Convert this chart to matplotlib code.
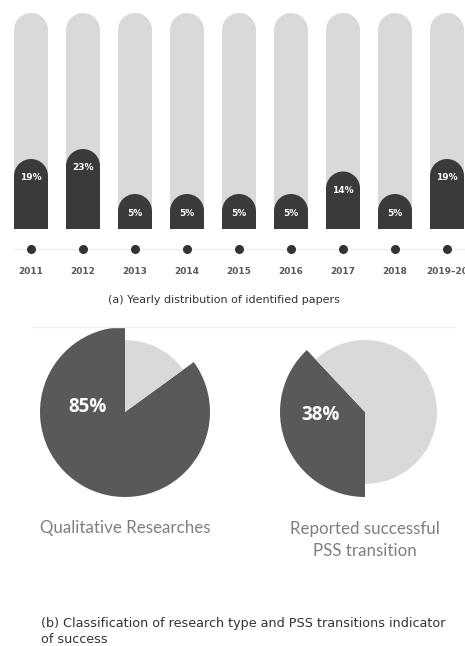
import matplotlib.pyplot as plt
import numpy as np
from matplotlib.lines import Line2D
from matplotlib.patches import Ellipse

years = ['2011', '2012', '2013', '2014', '2015', '2016', '2017', '2018', '2019–20']
share = [19, 23, 5, 5, 5, 5, 14, 5, 19]

pie_titles = ['Qualitative Researches', 'Reported successful\nPSS transition']
pie_share = [85, 38]

DARK = '#3a3a3a'
PIE_DARK = '#595959'
LIGHT = '#d9d9d9'

W, H = 465, 646
fig = plt.figure(figsize=(W / 100, H / 100), dpi=100)

# ---- (a) bar panel, pixel rows 0..300 from the top ----
ax = fig.add_axes([0, 1 - 300 / H, 1, 300 / H])
ax.set_xlim(-31 / 52, (W - 31) / 52)
ax.set_ylim(-37.4, 82.6)
ax.axis('off')

x = np.arange(len(years))
vals = np.array(share)
pad = 9          # bars start below zero so small shares still show a cap
full = 77.4      # height of the grey track
bw = 34 / 52
r_y = 17 / 2.5   # cap radius in y units

ax.bar(x, full - r_y + pad, bottom=-pad, width=bw, color=LIGHT, lw=0, snap=False)
ax.bar(x, vals - r_y + pad, bottom=-pad, width=bw, color=DARK, lw=0, snap=False)
for xi, v in zip(x, vals):
    ax.add_patch(Ellipse((xi, full - r_y), bw, 2 * r_y, color=LIGHT, lw=0, zorder=1))
    ax.add_patch(Ellipse((xi, v - r_y), bw, 2 * r_y, color=DARK, lw=0, zorder=1.5))
    ax.text(xi, v - r_y - 0.8, f'{v}%', ha='center', va='center', color='white',
            fontsize=6.5, fontweight='bold', zorder=3)

# timeline
ax.plot([x[0] - 0.33, x[-1] + 1], [-17, -17], color='#eeeeee', lw=1, zorder=0)
ax.plot(x, np.full(len(x), -17), 'o', ms=6.5, color='#333333', mew=0)
for xi, yr in zip(x, years):
    ax.text(xi, -25.8, yr, ha='center', va='center', color='#595959',
            fontsize=6.5, fontweight='bold', clip_on=False)

fig.text(224 / W, 1 - 300 / H, '(a) Yearly distribution of identified papers',
         ha='center', va='center', fontsize=8, color='#333333')

fig.add_artist(Line2D([32 / W, 455 / W], [1 - 327 / H] * 2, color='#f2f2f2', lw=1))

# ---- (b) pies ----
pie_cx = [125, 365]
pie_start = [90, 270]
pie_ccw = [True, False]
pie_lbl = [(-37, 5), (-45, -3)]
title_y = [528, 540]

for i, val in enumerate(pie_share):
    cx = pie_cx[i]
    pax = fig.add_axes([(cx - 100) / W, 1 - (412 + 100) / H, 200 / W, 200 / H])
    pax.pie([val, 100 - val], colors=[PIE_DARK, 'none'], radius=85,
            startangle=pie_start[i], counterclock=pie_ccw[i],
            wedgeprops=dict(linewidth=0))
    pax.pie([val, 100 - val], colors=['none', LIGHT], radius=72,
            startangle=pie_start[i], counterclock=pie_ccw[i],
            wedgeprops=dict(linewidth=0))
    pax.set_xlim(-100, 100)
    pax.set_ylim(-100, 100)
    pax.set_aspect('equal')
    pax.axis('off')
    pax.text(pie_lbl[i][0], pie_lbl[i][1], f'{val}%', ha='center', va='center',
             color='white', fontsize=13.5, fontweight='bold', family='Open Sans')
    fig.text(cx / W, 1 - title_y[i] / H, pie_titles[i], ha='center', va='center',
             fontsize=12.2, color='#7f7f7f', family='Lato', linespacing=1.5)

fig.text(41 / W, 1 - 617 / H,
         '(b) Classification of research type and PSS transitions indicator\nof success',
         ha='left', va='top', fontsize=9.2, color='#333333', linespacing=1.3)

fig.savefig('out.png', dpi=100)
